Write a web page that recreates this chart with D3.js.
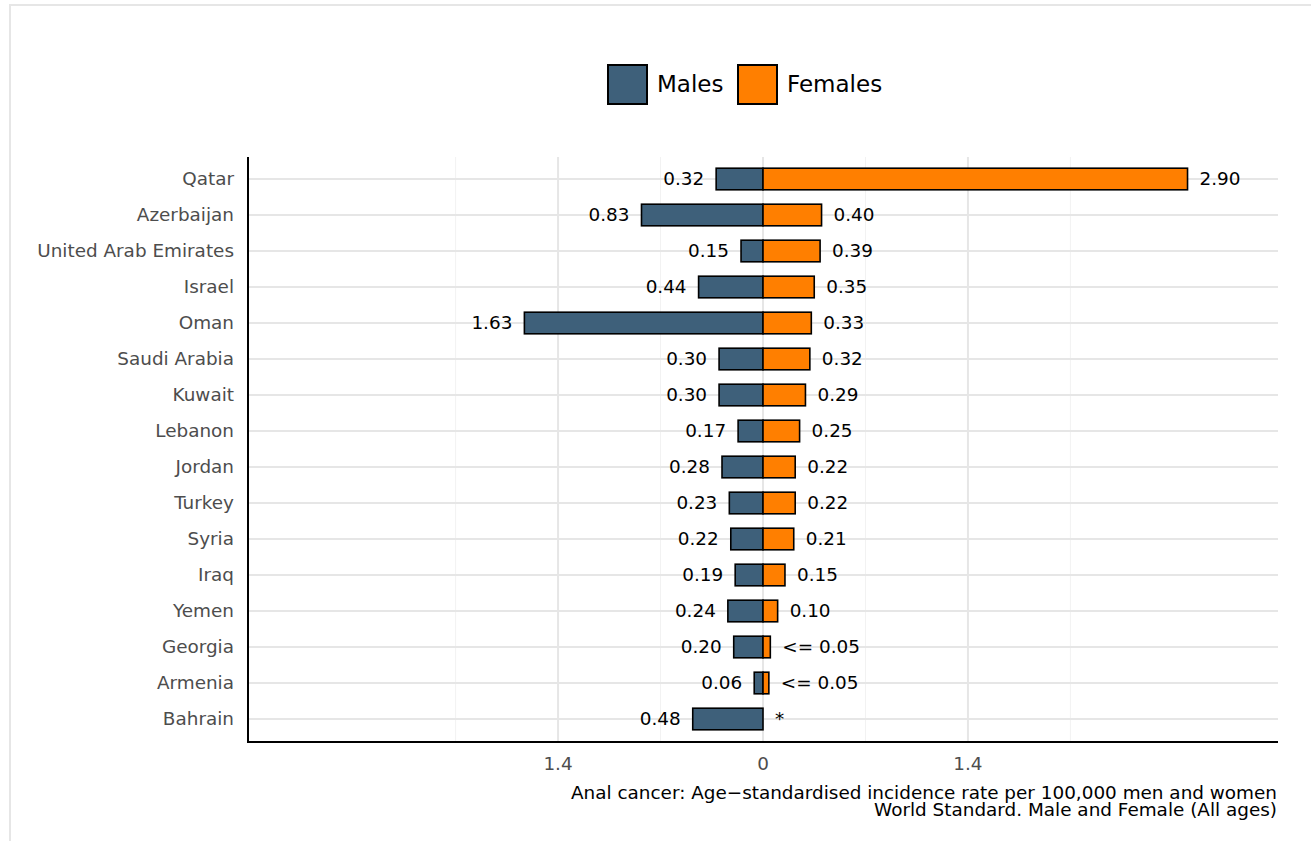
<!DOCTYPE html>
<html><head><meta charset="utf-8">
<script src="https://cdn.jsdelivr.net/npm/d3@7"></script>
<style>body{margin:0;background:#fff}svg{display:block}text{font-family:"DejaVu Sans",sans-serif}</style>
</head><body><svg id="c" width="1311" height="841"></svg>
<script>
const countries=["Qatar","Azerbaijan","United Arab Emirates","Israel","Oman","Saudi Arabia","Kuwait","Lebanon","Jordan","Turkey","Syria","Iraq","Yemen","Georgia","Armenia","Bahrain"];
const males=[0.32,0.83,0.15,0.44,1.63,0.30,0.30,0.17,0.28,0.23,0.22,0.19,0.24,0.20,0.06,0.48];
const females=[2.90,0.40,0.39,0.35,0.33,0.32,0.29,0.25,0.22,0.22,0.21,0.15,0.10,0.05,0.04,0];
const femaleLabels=["2.90","0.40","0.39","0.35","0.33","0.32","0.29","0.25","0.22","0.22","0.21","0.15","0.10","<= 0.05","<= 0.05","*"];
const majorTicks=[-1.4,0,1.4];
const minorTicks=[-2.1,-0.7,0.7,2.1];
const seriesNames=["Males","Females"];
const colors=["#3e607a","#ff7f00"];
const caption=["Anal cancer: Age\u2212standardised incidence rate per 100,000 men and women","World Standard. Male and Female (All ages)"];

const svg=d3.select("#c");
svg.append("rect").attr("x",10).attr("y",5).attr("width",1320).attr("height",860).attr("fill","none").attr("stroke","#e6e6e6").attr("stroke-width",2);

const L=248,R=1278,T=157,B=742;
const x=d3.scaleLinear().domain([-3.518,3.518]).range([L,R]);
const step=36, c0=179, bh=21.6;
const yc=c=>c0+step*countries.indexOf(c);
const FS=18.4;

const g=svg.append("g");
g.selectAll(".minor").data(minorTicks).join("line").attr("x1",d=>x(d)).attr("x2",d=>x(d)).attr("y1",T).attr("y2",B).attr("stroke","#f2f2f2").attr("stroke-width",1);
g.selectAll(".major").data(majorTicks).join("line").attr("x1",d=>x(d)).attr("x2",d=>x(d)).attr("y1",T).attr("y2",B).attr("stroke","#e6e6e6").attr("stroke-width",2);
g.selectAll(".hg").data(countries).join("line").attr("x1",L).attr("x2",R).attr("y1",d=>yc(d)).attr("y2",d=>yc(d)).attr("stroke","#e6e6e6").attr("stroke-width",2);

const rows=countries.map((c,i)=>({c,m:males[i],f:females[i],fl:femaleLabels[i]}));
g.selectAll(".mb").data(rows).join("rect").attr("x",d=>x(-d.m)).attr("width",d=>x(0)-x(-d.m)).attr("y",d=>yc(d.c)-bh/2).attr("height",bh).attr("fill",colors[0]).attr("stroke","#000").attr("stroke-width",1.6);
g.selectAll(".fb").data(rows.filter(d=>d.f>0)).join("rect").attr("x",x(0)).attr("width",d=>x(d.f)-x(0)).attr("y",d=>yc(d.c)-bh/2).attr("height",bh).attr("fill",colors[1]).attr("stroke","#000").attr("stroke-width",1.6);

g.selectAll(".ml").data(rows).join("text").attr("x",d=>x(-d.m)-12).attr("y",d=>yc(d.c)).attr("dy","0.34em").attr("text-anchor","end").attr("font-size",FS).attr("fill","#000").text(d=>d.m.toFixed(2));
g.selectAll(".fl").data(rows).join("text").attr("x",d=>x(d.f)+12).attr("y",d=>yc(d.c)).attr("dy","0.34em").attr("text-anchor","start").attr("font-size",FS).attr("fill","#000").text(d=>d.fl);

g.append("line").attr("x1",L).attr("x2",L).attr("y1",T).attr("y2",B+1).attr("stroke","#000").attr("stroke-width",2);
g.append("line").attr("x1",L-1).attr("x2",R).attr("y1",B).attr("y2",B).attr("stroke","#000").attr("stroke-width",2);
g.selectAll(".yl").data(countries).join("text").attr("x",234).attr("y",d=>yc(d)).attr("dy","0.34em").attr("text-anchor","end").attr("font-size",FS).attr("fill","#4d4d4d").text(d=>d);
g.selectAll(".xl").data(majorTicks).join("text").attr("x",d=>x(d)).attr("y",770).attr("text-anchor","middle").attr("font-size",FS).attr("fill","#4d4d4d").text(d=>Math.abs(d).toString());

svg.selectAll(".cap").data(caption).join("text").attr("x",1277).attr("y",(d,i)=>799+i*16.5).attr("text-anchor","end").attr("font-size",FS).attr("fill","#000").text(d=>d);

const legX=[608,738];
const lg=svg.append("g");
seriesNames.forEach((s,i)=>{
  lg.append("rect").attr("x",legX[i]).attr("y",65).attr("width",39).attr("height",39).attr("fill",colors[i]).attr("stroke","#000").attr("stroke-width",2);
  lg.append("text").attr("x",legX[i]+49).attr("y",84.5).attr("dy","0.34em").attr("font-size",23).attr("fill","#000").text(s);
});
</script></body></html>
